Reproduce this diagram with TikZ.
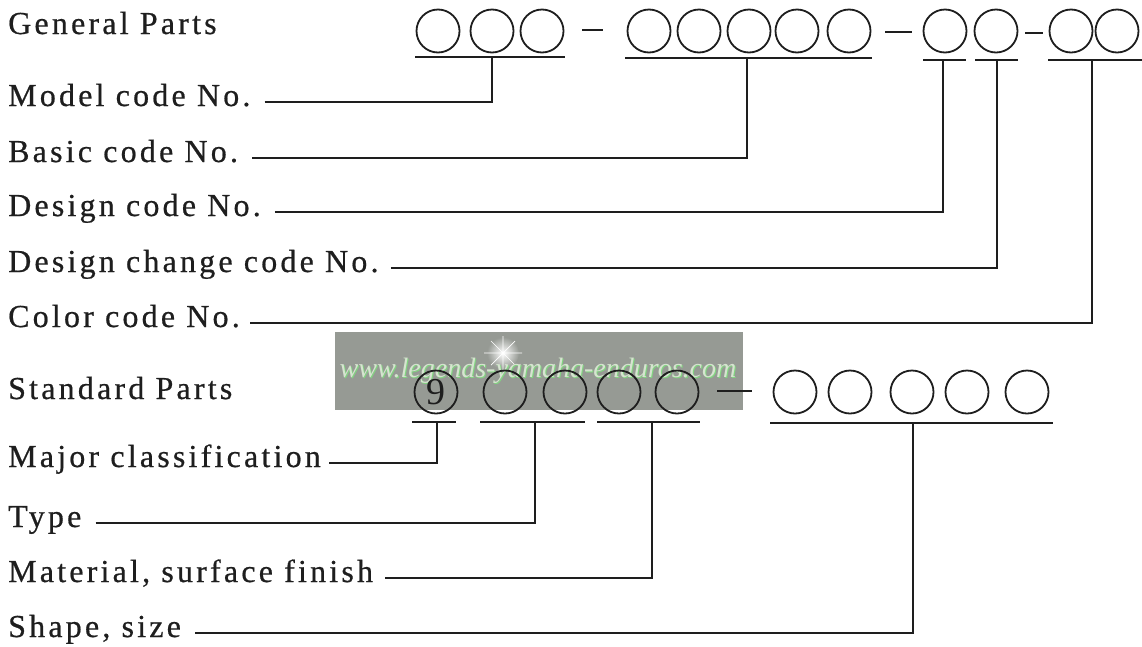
\documentclass[tikz,border=0pt]{standalone}
\usepackage{fontspec}
\setmainfont{Liberation Serif}[LetterSpace=10,Ligatures=CommonOff,FakeBold=0.6]
\newfontfamily\wmfont{Liberation Serif}
\newfontfamily\digitfont{Liberation Serif}
\definecolor{ink}{RGB}{30,30,30}
\definecolor{wmgray}{RGB}{150,154,148}
\definecolor{wmtext}{RGB}{214,228,208}
\begin{document}
\begin{tikzpicture}[x=1pt,y=-1pt,
  lbl/.style={anchor=base west, inner sep=0pt, font=\fontsize{32}{38}\selectfont, text=ink},
  circ/.style={circle, draw=ink, line width=1.8pt, minimum size=43pt, inner sep=0pt, text=ink},
  bar/.style={line width=1.5pt, draw=ink},
  conn/.style={line width=1.3pt, draw=ink},
  dashline/.style={line width=2.2pt, draw=ink}]
\useasboundingbox (0,0) rectangle (1142,646);
\fill[white] (0,0) rectangle (1142,646);

% watermark
\fill[wmgray] (335,332) rectangle (743,410);
\shade[inner color=white, outer color=wmgray] (503,353) circle (16);
\draw[white, line width=0.7pt] (484,353) -- (522,353) (503,336) -- (503,370)
  (491,341) -- (515,365) (491,365) -- (515,341);
\node[font=\wmfont\itshape\fontsize{28}{30}\selectfont, text=green!55!white, opacity=0.6, anchor=base] at (539,378) {www.legends-yamaha-enduros.com};
\node[font=\wmfont\itshape\fontsize{28}{30}\selectfont, text=wmtext, anchor=base] (wm) at (538,377) {www.legends-yamaha-enduros.com};

% labels
\node[lbl] (gen) at (8,34) {General Parts};
\node[lbl] (model) at (8,106) {Model code No.};
\node[lbl] (basic) at (8,162) {Basic code No.};
\node[lbl] (design) at (8,216) {Design code No.};
\node[lbl] (dchange) at (8,272) {Design change code No.};
\node[lbl] (color) at (8,327) {Color code No.};
\node[lbl] (std) at (8,399) {Standard Parts};
\node[lbl] (major) at (8,467) {Major classification};
\node[lbl] (type) at (8,527) {Type};
\node[lbl] (mat) at (8,582) {Material, surface finish};
\node[lbl] (shape) at (8,637) {Shape, size};

% general parts circles
\foreach \x [count=\i] in {438,492,542,649,699,749,797,849,945,996,1071,1117}
  \node[circ] (g\i) at (\x,31) {};
\draw[dashline] (582,30) -- (603,30);
\draw[dashline] (885,32) -- (912,32);
\draw[dashline] (1025,33) -- (1043,33);
\draw[bar] (415,57) -- (565,57);
\draw[bar] (625,58) -- (872,58);
\draw[bar] (923,60) -- (966,60);
\draw[bar] (975,60) -- (1018,60);
\draw[bar] (1048,60) -- (1142,60);
\coordinate (tModel) at (492,57);
\coordinate (tBasic) at (747,58);
\coordinate (tDesign) at (943,60);
\coordinate (tChange) at (997,60);
\coordinate (tColor) at (1092,60);

% standard parts circles
\node[circ, font=\digitfont\fontsize{38}{40}\selectfont] (s1) at (436,392) {9};
\foreach \x [count=\i from 2] in {505,565,619,677,795,850,912,967,1027}
  \node[circ] (s\i) at (\x,392) {};
\draw[dashline] (717,391) -- (752,391);
\draw[bar] (412,422) -- (456,422);
\draw[bar] (480,422) -- (585,422);
\draw[bar] (597,422) -- (700,422);
\draw[bar] (770,423) -- (1053,423);
\coordinate (tMajor) at (437,422);
\coordinate (tType) at (535,422);
\coordinate (tMat) at (652,422);
\coordinate (tShape) at (913,423);

% connectors
\draw[conn] ([shift={(14,-4)}]model.base east) -| (tModel);
\draw[conn] ([shift={(14,-4)}]basic.base east) -| (tBasic);
\draw[conn] ([shift={(14,-4)}]design.base east) -| (tDesign);
\draw[conn] ([shift={(12,-4)}]dchange.base east) -| (tChange);
\draw[conn] ([shift={(10,-4)}]color.base east) -| (tColor);
\draw[conn] ([shift={(8,-4)}]major.base east) -| (tMajor);
\draw[conn] ([shift={(14,-4)}]type.base east) -| (tType);
\draw[conn] ([shift={(12,-4)}]mat.base east) -| (tMat);
\draw[conn] ([shift={(14,-4)}]shape.base east) -| (tShape);
\end{tikzpicture}
\end{document}
